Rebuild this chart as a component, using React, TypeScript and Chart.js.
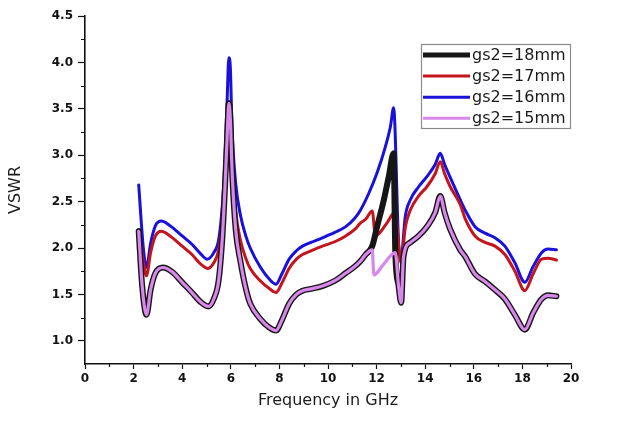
import { useEffect, useRef } from "react";
import { Chart, registerables } from "chart.js";

Chart.register(...registerables);

// ---- data (frequency in GHz, VSWR) ----
const FREQ_16 = [
  2.21, 2.4, 2.53, 2.7, 2.9, 3.14, 3.5, 4.0, 4.4, 4.75, 5.03, 5.3, 5.5, 5.65, 5.76, 5.85, 5.92, 5.98,
  6.05, 6.2, 6.4, 6.63, 6.8, 7.2, 7.6, 7.86, 8.1, 8.4, 8.7, 8.95, 9.3, 9.77, 10.3, 10.73, 11.1, 11.34,
  11.68, 12.02, 12.36, 12.57, 12.7, 12.93, 13.01, 13.18, 13.39, 13.73, 14.07, 14.41, 14.62, 14.8,
  15.03, 15.44, 15.64, 16.05, 16.46, 16.87, 17.28, 17.69, 18.1, 18.44, 18.79, 19.06, 19.4,
];
const VSWR_16 = [
  2.68, 2.0, 1.79, 2.05, 2.24, 2.29, 2.24, 2.13, 2.04, 1.94, 1.88, 1.95, 2.09, 2.45, 2.95, 3.6, 4.05, 3.95,
  3.3, 2.7, 2.35, 2.12, 2.0, 1.8, 1.66, 1.61, 1.72, 1.88, 1.97, 2.02, 2.06, 2.11, 2.17, 2.23, 2.32, 2.41,
  2.59, 2.81, 3.09, 3.31, 3.51, 1.95, 1.9, 2.34, 2.52, 2.66, 2.77, 2.9, 3.02, 2.9,
  2.76, 2.52, 2.41, 2.23, 2.16, 2.11, 2.02, 1.84, 1.63, 1.8, 1.95, 1.99, 1.98,
];

const FREQ_17 = [
  2.21, 2.4, 2.53, 2.7, 2.9, 3.14, 3.5, 4.0, 4.4, 4.75, 5.06, 5.3, 5.5, 5.65, 5.76, 5.85, 5.92, 5.98,
  6.05, 6.2, 6.4, 6.63, 6.8, 7.2, 7.6, 7.86, 8.1, 8.4, 8.7, 8.95, 9.3, 9.77, 10.3, 10.73, 11.1, 11.34,
  11.55, 11.82, 11.95, 12.4, 12.77, 12.92, 13.01, 13.18, 13.39, 13.73, 14.07, 14.41, 14.62, 14.8,
  15.03, 15.44, 15.64, 16.05, 16.46, 16.87, 17.28, 17.69, 18.1, 18.44, 18.79, 19.06, 19.4,
];
const VSWR_17 = [
  2.2, 1.85, 1.7, 1.95, 2.13, 2.18, 2.13, 2.02, 1.93, 1.83, 1.78, 1.84, 1.98, 2.3, 2.8, 3.25, 3.58, 3.45,
  2.95, 2.4, 2.08, 1.88, 1.78, 1.65, 1.56, 1.52, 1.62, 1.78, 1.88, 1.93, 1.97, 2.02, 2.07, 2.13, 2.2, 2.27,
  2.31, 2.4, 2.13, 2.26, 2.39, 2.0, 1.84, 2.22, 2.41, 2.56, 2.66, 2.8, 2.93, 2.8,
  2.66, 2.47, 2.32, 2.13, 2.06, 2.02, 1.93, 1.75, 1.54, 1.72, 1.88, 1.89, 1.87,
];

const FREQ_15 = [
  2.21, 2.35, 2.53, 2.7, 2.9, 3.21, 3.6, 4.0, 4.4, 4.75, 5.08, 5.3, 5.5, 5.65, 5.76, 5.85, 5.92, 5.98,
  6.05, 6.2, 6.4, 6.63, 6.8, 7.2, 7.6, 7.86, 8.1, 8.4, 8.7, 8.95, 9.3, 9.77, 10.3, 10.73, 11.1, 11.34,
  11.55, 11.82, 11.89, 12.3, 12.77, 12.9, 13.01, 13.11, 13.39, 13.73, 14.07, 14.41, 14.62, 14.8,
  15.03, 15.44, 15.64, 16.05, 16.46, 16.87, 17.28, 17.69, 18.1, 18.44, 18.79, 19.06, 19.4,
];
const VSWR_15 = [
  2.18, 1.6, 1.28, 1.55, 1.73, 1.79, 1.74, 1.63, 1.52, 1.42, 1.37, 1.45, 1.65, 2.1, 2.65, 3.2, 3.56, 3.4,
  2.85, 2.2, 1.85, 1.55, 1.4, 1.24, 1.14, 1.11, 1.22, 1.4, 1.5, 1.54, 1.56, 1.59, 1.65, 1.73, 1.8, 1.86,
  1.93, 1.98, 1.71, 1.83, 1.95, 1.6, 1.41, 1.91, 2.06, 2.13, 2.23, 2.38, 2.56, 2.38,
  2.2, 1.98, 1.91, 1.72, 1.64, 1.55, 1.45, 1.28, 1.12, 1.3, 1.45, 1.49, 1.48,
];

const FREQ_18 = [
  2.21, 2.35, 2.53, 2.7, 2.9, 3.21, 3.6, 4.0, 4.4, 4.75, 5.08, 5.3, 5.5, 5.65, 5.76, 5.85, 5.92, 5.98,
  6.05, 6.2, 6.4, 6.63, 6.8, 7.2, 7.6, 7.86, 8.1, 8.4, 8.7, 8.95, 9.3, 9.77, 10.3, 10.73, 11.1, 11.34,
  11.55, 11.82, 12.02, 12.3, 12.5, 12.7, 12.77, 12.9, 13.01, 13.11, 13.39, 13.73, 14.07, 14.41, 14.62, 14.8,
  15.03, 15.44, 15.64, 16.05, 16.46, 16.87, 17.28, 17.69, 18.1, 18.44, 18.79, 19.06, 19.4,
];
const VSWR_18 = [
  2.18, 1.6, 1.28, 1.55, 1.73, 1.79, 1.74, 1.63, 1.52, 1.42, 1.37, 1.45, 1.65, 2.1, 2.65, 3.2, 3.56, 3.4,
  2.85, 2.2, 1.85, 1.55, 1.4, 1.24, 1.14, 1.11, 1.22, 1.4, 1.5, 1.54, 1.56, 1.59, 1.65, 1.73, 1.8, 1.86,
  1.93, 2.02, 2.23, 2.52, 2.77, 3.02, 1.95, 1.6, 1.41, 1.91, 2.06, 2.13, 2.23, 2.38, 2.56, 2.38,
  2.2, 1.98, 1.91, 1.72, 1.64, 1.55, 1.45, 1.28, 1.12, 1.3, 1.45, 1.49, 1.48,
];

const X_MIN = 0;
const X_MAX = 20;
const X_STEP = 2;
const Y_MIN = 0.75;
const Y_MAX = 4.5;
const Y_TICKS = [1.0, 1.5, 2.0, 2.5, 3.0, 3.5, 4.0, 4.5];
const X_MINOR = [1, 3, 5, 7, 9, 11, 13, 15, 17, 19];
const Y_MINOR = [1.25, 1.75, 2.25, 2.75, 3.25, 3.75, 4.25];

const LABELS = ["gs2=18mm", "gs2=17mm", "gs2=16mm", "gs2=15mm"];
const COLORS = ["#161616", "#c3151b", "#1a10dc", "#d887ea"];
const WIDTHS = [6, 3, 3, 3.2];

const FONT = "'DejaVu Sans', 'Liberation Sans', Arial, sans-serif";
const INK = "#111111";

const toPoints = (xs: number[], ys: number[]) => xs.map((x, i) => ({ x, y: ys[i] }));

// short unlabeled ticks between the labeled ones
const minorTicks = {
  id: "minorTicks",
  afterDraw(chart: any) {
    const { ctx, scales } = chart;
    const xs = scales.x;
    const ys = scales.y;
    ctx.save();
    ctx.strokeStyle = INK;
    ctx.lineWidth = 1.2;
    ctx.beginPath();
    X_MINOR.forEach((v) => {
      const px = Math.round(xs.getPixelForValue(v)) + 0.5;
      ctx.moveTo(px, ys.bottom);
      ctx.lineTo(px, ys.bottom + 3);
    });
    Y_MINOR.forEach((v) => {
      const py = Math.round(ys.getPixelForValue(v)) + 0.5;
      ctx.moveTo(xs.left, py);
      ctx.lineTo(xs.left - 4, py);
    });
    ctx.stroke();
    ctx.restore();
  },
};

// framed legend in the upper right of the plot
const boxLegend = {
  id: "boxLegend",
  afterDraw(chart: any) {
    const { ctx, chartArea } = chart;
    const left = chartArea.right - 150;
    const top = chartArea.top + 28;
    const w = 149;
    const h = 84;
    ctx.save();
    ctx.fillStyle = "#ffffff";
    ctx.fillRect(left, top, w, h);
    ctx.strokeStyle = "#8c8c8c";
    ctx.lineWidth = 1.2;
    ctx.strokeRect(left + 0.5, top + 0.5, w, h);
    ctx.font = `16px ${FONT}`;
    ctx.textBaseline = "middle";
    ctx.textAlign = "left";
    LABELS.forEach((label, i) => {
      const y = top + 11 + i * 21.1;
      ctx.strokeStyle = COLORS[i];
      ctx.lineWidth = i === 0 ? 5 : 3;
      ctx.beginPath();
      ctx.moveTo(left + 2, y);
      ctx.lineTo(left + 49, y);
      ctx.stroke();
      ctx.fillStyle = "#1a1a1a";
      ctx.fillText(label, left + 51, y + 1);
    });
    ctx.restore();
  },
};

export default function App() {
  const canvasRef = useRef<HTMLCanvasElement | null>(null);

  useEffect(() => {
    const canvas = canvasRef.current;
    if (!canvas) return;

    const series = [
      { data: toPoints(FREQ_18, VSWR_18), idx: 0, order: 1 },
      { data: toPoints(FREQ_17, VSWR_17), idx: 1, order: 2 },
      { data: toPoints(FREQ_16, VSWR_16), idx: 2, order: 3 },
      { data: toPoints(FREQ_15, VSWR_15), idx: 3, order: 0 },
    ];

    const chart = new Chart(canvas, {
      type: "line",
      data: {
        datasets: series.map((s) => ({
          label: LABELS[s.idx],
          data: s.data,
          borderColor: COLORS[s.idx],
          backgroundColor: COLORS[s.idx],
          borderWidth: WIDTHS[s.idx],
          pointRadius: 0,
          cubicInterpolationMode: "monotone" as const,
          borderJoinStyle: "round" as const,
          borderCapStyle: "round" as const,
          fill: false,
          order: s.order,
        })),
      },
      options: {
        responsive: false,
        animation: false,
        events: [],
        layout: { padding: { top: 16, right: 48, left: 0, bottom: 0 } },
        plugins: {
          legend: { display: false },
          tooltip: { enabled: false },
        },
        scales: {
          x: {
            type: "linear",
            min: X_MIN,
            max: X_MAX,
            ticks: {
              stepSize: X_STEP,
              color: INK,
              padding: 3,
              maxRotation: 0,
              font: { family: FONT, size: 12, weight: "bold" },
            },
            grid: {
              display: true,
              drawOnChartArea: false,
              drawTicks: true,
              tickLength: 5,
              tickWidth: 1.2,
              tickColor: INK,
            },
            border: { display: true, color: INK, width: 1.6 },
            title: {
              display: true,
              text: "Frequency in GHz",
              color: "#1c1c1c",
              font: { family: FONT, size: 16 },
              padding: { top: 0, bottom: 13 },
            },
            afterFit: (s: any) => {
              s.height = 59;
            },
          },
          y: {
            type: "linear",
            min: Y_MIN,
            max: Y_MAX,
            afterBuildTicks: (axis: any) => {
              axis.ticks = Y_TICKS.map((value) => ({ value }));
            },
            ticks: {
              color: INK,
              padding: 5,
              font: { family: FONT, size: 12, weight: "bold" },
              callback: (v: any) => Number(v).toFixed(1),
            },
            grid: {
              display: true,
              drawOnChartArea: false,
              drawTicks: true,
              tickLength: 7,
              tickWidth: 1.2,
              tickColor: INK,
            },
            border: { display: true, color: INK, width: 1.6 },
            title: {
              display: true,
              text: "VSWR",
              color: "#1c1c1c",
              font: { family: FONT, size: 16 },
              padding: { top: 6, bottom: 0 },
            },
            afterFit: (s: any) => {
              s.width = 85;
            },
          },
        },
      },
      plugins: [minorTicks, boxLegend],
    });

    return () => chart.destroy();
  }, []);

  return (
    <div style={{ position: "fixed", left: 0, top: 0, width: 619, height: 423, background: "#ffffff" }}>
      <canvas ref={canvasRef} width={619} height={423} style={{ display: "block" }} />
    </div>
  );
}
